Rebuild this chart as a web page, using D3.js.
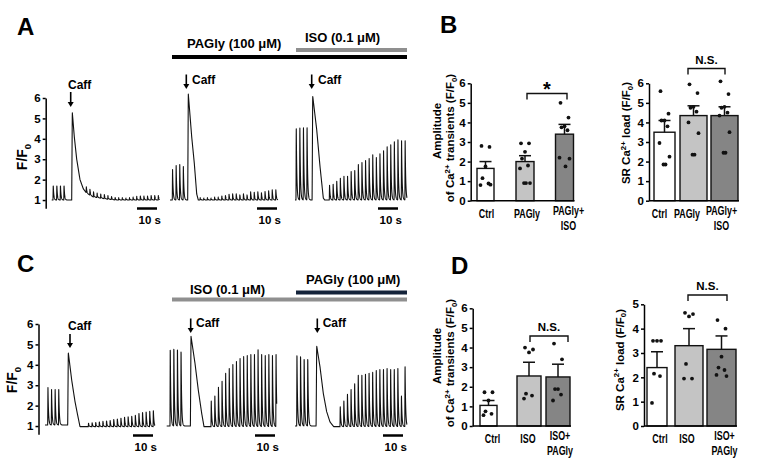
<!DOCTYPE html>
<html>
<head>
<meta charset="utf-8">
<script src="https://cdn.jsdelivr.net/npm/d3@7/dist/d3.min.js"></script>
<style>
  html, body { margin: 0; background: #fff; }
  svg { display: block; font-family: "Liberation Sans", Arial, sans-serif; font-weight: bold; }
</style>
</head>
<body>
<svg id="fig" width="763" height="463"></svg>
<script>
// ---------- data ----------
/** Field-stimulation interval, s. */
const pacingPeriod = 1.8;
const traceTicks = [1, 2, 3, 4, 5, 6];

// Panel A traces: Ctrl | PAGly | PAGly+ISO  (peak F/F0 of each beat)
const a1Pre = [1.75, 1.75, 1.75, 1.75];
const a1Caff = [[0, 5.3], [1, 4.1], [2.2, 3.0], [3.85, 2.0], [5.5, 1.55], [7.2, 1.33], [10.5, 1.15], [17, 1.05], [22, 1.0]];
const a1Post = [1.3, 1.28, 1.25, 1.22, 1.2, 1.2, 1.18, 1.15, 1.12, 1.12, 1.12, 1.1, 1.12, 1.15, 1.18, 1.2, 1.2, 1.2, 1.22, 1.22, 1.22];
const a2Pre = [2.55, 2.75, 2.8, 2.7];
const a2Caff = [[0, 6.2], [1.7, 4.1], [3, 2.8], [4.2, 1.3], [5, 1.0]];
const a2Post = [1.12, 1.1, 1.12, 1.1, 1.15, 1.15, 1.2, 1.22, 1.28, 1.3, 1.3, 1.25, 1.3, 1.25, 1.4, 1.38, 1.4, 1.35, 1.42, 1.45, 1.5, 1.5];
const a3Pre = [4.75, 4.78, 4.8, 4.8];
const a3Caff = [[0, 6.1], [2, 4.45], [3.65, 2.65], [5.3, 1.1], [6, 1.0]];
const a3Post = [1.75, 1.8, 1.95, 2.1, 2.2, 2.2, 2.45, 2.5, 2.8, 2.9, 3.0, 3.1, 3.3, 3.15, 3.35, 3.5, 3.7, 3.8, 3.95, 4.05, 4.0, 4.0];
// beat / caffeine timing within each trace, s: [first pre beat, caffeine peak, first post beat]
const aTiming = [[0.65, 10.3, 17.2], [1.15, 9.15, 15], [0.5, 8.85, 17.15]];

// Panel C traces: Ctrl | ISO | ISO+PAGly
const c1Pre = [2.9, 2.8, 2.8, 2.8];
const c1Caff = [[0, 4.6], [1.7, 3.25], [3.35, 2.2], [4.5, 1.62], [5.85, 0.97]];
const c1Post = [1.18, 1.2, 1.22, 1.25, 1.28, 1.3, 1.32, 1.38, 1.4, 1.45, 1.5, 1.52, 1.55, 1.6, 1.7, 1.75, 1.78, 1.82, 1.85];
const c2Pre = [5.05, 5.1, 5.05, 4.95];
const c2Caff = [[0, 5.4], [2, 4.07], [3.65, 2.76], [5.35, 1.62], [6.5, 0.97]];
const c2Post = [2.3, 2.55, 3.0, 3.3, 3.7, 3.95, 4.15, 4.3, 4.45, 4.55, 4.6, 4.65, 4.65, 4.9, 4.65, 4.6, 4.65, 4.6, 4.65];
const c3Pre = [4.75, 4.7, 4.55, 4.55];
const c3Caff = [[0, 4.92], [1.65, 3.9], [3.3, 2.6], [5, 1.7], [6.65, 1.2], [8.5, 0.97]];
const c3Post = [2.05, 2.35, 2.7, 2.95, 3.25, 3.7, 3.7, 3.75, 3.8, 3.85, 3.95, 4.0, 4.0, 4.05, 4.0, 4.0, 4.05, 2.6, 4.15];
const cTiming = [[1.35, 11.65, 21.65], [1.65, 12.15, 22.15], [0.85, 10.85, 22.5]];
const cBase = [1.05, 1.0, 1.0];

// Panel B / D bar charts
const barTicks6 = [0, 1, 2, 3, 4, 5, 6];
const barTicks5 = [0, 1, 2, 3, 4, 5];
const bCats = ["Ctrl", "PAGly", "PAGly+ISO"];
const bAmpMean = [1.65, 2.0, 3.4];
const bAmpSem = [0.35, 0.3, 0.5];
const bAmpDots = [[2.8, 2.75, 1.75, 1.15, 0.88, 0.8, 0.82], [2.93, 2.93, 2.5, 2.15, 1.8, 1.65, 0.9, 0.9, 0.9], [5.0, 4.25, 3.8, 3.75, 3.6, 2.2, 2.15, 1.75]];
const bLoadMean = [3.5, 4.35, 4.35];
const bLoadSem = [0.6, 0.5, 0.45];
const bLoadDots = [[5.6, 4.45, 4.1, 4.1, 3.8, 2.95, 2.25, 1.85, 1.85], [5.95, 5.5, 4.8, 4.75, 4.55, 4.0, 3.45, 2.35, 2.35], [6.1, 5.45, 4.8, 4.75, 4.5, 4.35, 3.5, 2.45, 2.45]];
const dCats = ["Ctrl", "ISO", "ISO+PAGly"];
const dAmpMean = [1.05, 2.55, 2.5];
const dAmpSem = [0.25, 0.7, 0.65];
const dAmpDots = [[1.72, 1.72, 1.3, 0.75, 0.62, 0.55], [4.0, 3.9, 3.75, 1.65, 1.55, 1.4], [4.2, 3.4, 1.88, 1.88, 1.6, 1.3]];
const dLoadMean = [2.4, 3.3, 3.15];
const dLoadSem = [0.65, 0.7, 0.55];
const dLoadDots = [[3.5, 3.5, 3.5, 2.15, 2.05, 0.95], [4.65, 4.6, 4.5, 2.55, 1.95, 1.95], [4.35, 4.0, 2.85, 2.4, 2.3, 2.1, 2.05]];

// ---------- drawing ----------
const svg = d3.select("#fig");
const TICK_FONT = 11.5;
const CAT_FONT = 12;
/** px per second of the trace time axis (10 s = 20 px). */
const PX_PER_S = 2;

/** Append text made of [string, "sup"|"sub"|null] parts. */
function richText(sel, parts, size) {
  let shift = 0;
  parts.forEach(([s, kind]) => {
    const target = kind === "sup" ? -size * 0.38 : kind === "sub" ? size * 0.25 : 0;
    sel.append("tspan")
      .attr("dy", target - shift)
      .attr("font-size", kind ? size * 0.68 : size)
      .text(s);
    shift = target;
  });
  return sel;
}

function panelLetter(txt, x, y) {
  svg.append("text").attr("x", x).attr("y", y).attr("font-size", 24).text(txt);
}

function treatmentBar(x1, x2, y, color, label, lx, ly) {
  svg.append("line").attr("x1", x1).attr("x2", x2).attr("y1", y).attr("y2", y)
    .attr("stroke", color).attr("stroke-width", 4);
  svg.append("text").attr("x", lx).attr("y", ly).attr("font-size", 13).text(label);
}

function styleAxis(axis) {
  axis.select(".domain").attr("stroke-width", 1.5);
  axis.selectAll(".tick line").attr("stroke-width", 1.5);
  axis.selectAll("text").attr("font-size", TICK_FONT).attr("font-family", null).attr("fill", "#000");
}

function traceSeries(tr) {
  const [preT0, caffT, postT0] = tr.timing;
  const caffCurve = d3.scaleLinear()
    .domain(tr.caff.map((d) => d[0]))
    .range(tr.caff.map((d) => d[1]))
    .clamp(true);
  const beats = [];
  tr.pre.forEach((a, i) => beats.push({ t: preT0 + i * pacingPeriod, a }));
  tr.post.forEach((a, i) => beats.push({ t: postT0 + i * pacingPeriod, a }));
  const pts = [];
  for (let t = 0; t <= tr.dur; t += 0.04) {
    const dt = t - caffT;
    let v = tr.base;
    if (dt >= -0.3 && dt < 0) v = tr.base + (tr.caff[0][1] - tr.base) * (dt + 0.3) / 0.3;
    else if (dt >= 0) v = caffCurve(dt);
    beats.forEach((b) => {
      const d = t - b.t;
      if (d >= 0 && d < 0.12) v += (b.a - 1) * d / 0.12;
      else if (d >= 0.12 && d < 3) v += (b.a - 1) * Math.exp(-(d - 0.12) / 0.28);
    });
    pts.push([t, v]);
  }
  return pts;
}

function traceRow(cfg) {
  const y = d3.scaleLinear().domain([0.6, 6]).range(cfg.yRange);
  const g = svg.append("g");
  const axis = g.append("g")
    .attr("transform", `translate(${cfg.axisX},0)`)
    .call(d3.axisLeft(y).tickValues(traceTicks).tickFormat(d3.format("d")).tickSize(3).tickSizeOuter(0).tickPadding(2));
  styleAxis(axis);

  richText(g.append("text")
    .attr("transform", `translate(${cfg.labelX},${cfg.labelY}) rotate(-90)`)
    .attr("text-anchor", "middle"), [["F/F", null], ["0", "sub"]], 14);

  cfg.traces.forEach((tr, i) => {
    const x = d3.scaleLinear().domain([0, tr.dur]).range([tr.x0, tr.x0 + tr.dur * PX_PER_S]);
    const line = d3.line().x((d) => x(d[0])).y((d) => y(d[1]));
    g.append("path").datum(traceSeries(tr)).attr("d", line)
      .attr("fill", "none").attr("stroke", "#111").attr("stroke-width", 1.1)
      .attr("stroke-linejoin", "round");

    // 10 s scale bar
    const sb = cfg.scaleBars[i];
    g.append("line").attr("x1", sb - 10 * PX_PER_S).attr("x2", sb)
      .attr("y1", cfg.scaleY).attr("y2", cfg.scaleY)
      .attr("stroke", "#000").attr("stroke-width", 2.5);
    g.append("text").attr("x", sb - 10 * PX_PER_S + 1.5).attr("y", cfg.scaleY + 15)
      .attr("font-size", 11.5).text("10 s");

    // caffeine arrow
    const ax = x(tr.timing[1]) + cfg.arrowDx[i];
    const [ay1, ay2] = cfg.arrowY[i];
    g.append("line").attr("x1", ax).attr("x2", ax).attr("y1", ay1).attr("y2", ay2 - 4)
      .attr("stroke", "#000").attr("stroke-width", 1.6);
    g.append("path").attr("d", `M${ax - 3},${ay2 - 5}L${ax + 3},${ay2 - 5}L${ax},${ay2}Z`).attr("fill", "#000");
    g.append("text").attr("x", cfg.caffX[i]).attr("y", cfg.caffY[i]).attr("font-size", 12).text("Caff");
  });
}

function barChart(cfg) {
  const y = d3.scaleLinear().domain(cfg.domain).range(cfg.yRange);
  const x = d3.scaleOrdinal().domain(cfg.cats).range(cfg.centers);
  const w = d3.scaleOrdinal().domain(cfg.cats).range(cfg.widths);
  const fill = d3.scaleOrdinal().domain(cfg.cats).range(["#ffffff", "#c4c4c4", "#858585"]);
  const g = svg.append("g");
  const rows = cfg.cats.map((c, i) => ({ c, mean: cfg.mean[i], sem: cfg.sem[i], dots: cfg.dots[i] }));

  g.selectAll("rect").data(rows).join("rect")
    .attr("x", (d) => x(d.c) - w(d.c) / 2)
    .attr("width", (d) => w(d.c))
    .attr("y", (d) => y(d.mean))
    .attr("height", (d) => y(0) - y(d.mean))
    .attr("fill", (d) => fill(d.c))
    .attr("stroke", "#111").attr("stroke-width", 1.4);

  // SEM error bars (upper)
  rows.forEach((d) => {
    g.append("line").attr("x1", x(d.c)).attr("x2", x(d.c))
      .attr("y1", y(d.mean)).attr("y2", y(d.mean + d.sem))
      .attr("stroke", "#111").attr("stroke-width", 1.5);
    g.append("line").attr("x1", x(d.c) - 6).attr("x2", x(d.c) + 6)
      .attr("y1", y(d.mean + d.sem)).attr("y2", y(d.mean + d.sem))
      .attr("stroke", "#111").attr("stroke-width", 1.5);
  });

  // individual cells
  const jitter = [-4, 4, 0, -3, 3, -5, 5, 1, -1];
  rows.forEach((d) => {
    g.selectAll(null).data(d.dots).join("circle")
      .attr("cx", (v, i) => x(d.c) + jitter[i % jitter.length])
      .attr("cy", (v) => y(v))
      .attr("r", 1.9).attr("fill", "#111");
  });

  // axes
  const axis = g.append("g").attr("transform", `translate(${cfg.axisX},0)`)
    .call(d3.axisLeft(y).tickValues(cfg.ticks).tickFormat(d3.format("d")).tickSize(3).tickSizeOuter(0).tickPadding(2));
  styleAxis(axis);
  const last = cfg.cats[cfg.cats.length - 1];
  g.append("line").attr("x1", cfg.axisX).attr("x2", x(last) + w(last) / 2 + 1)
    .attr("y1", y(0)).attr("y2", y(0)).attr("stroke", "#000").attr("stroke-width", 1.5);

  // category labels (the figure sets them in a condensed face)
  cfg.cats.forEach((c, i) => {
    const parts = c.includes("+") ? [c.slice(0, c.indexOf("+") + 1), c.slice(c.indexOf("+") + 1)] : [c];
    const lx = x(c) + cfg.labelDx[i];
    parts.forEach((p, j) => {
      const t = g.append("text").attr("x", lx).attr("text-anchor", "middle")
        .attr("y", parts.length > 1 ? cfg.catY - 3 + j * 14.5 : cfg.catY)
        .attr("font-size", CAT_FONT).text(p);
      t.attr("textLength", t.node().getComputedTextLength() * 0.74).attr("lengthAdjust", "spacingAndGlyphs");
    });
  });

  // y label
  cfg.yLabel.forEach((parts, j) => {
    richText(g.append("text")
      .attr("transform", `translate(${cfg.yLabelX[j]},${cfg.yLabelY[j]}) rotate(-90)`)
      .attr("text-anchor", "middle"), parts, 11.5);
  });

  // significance bracket
  const [bx1, bx2, by, txt] = cfg.bracket;
  g.append("path").attr("d", `M${bx1},${by + 6}V${by}H${bx2}V${by + 6}`)
    .attr("fill", "none").attr("stroke", "#111").attr("stroke-width", 1.4);
  g.append("text").attr("x", (bx1 + bx2) / 2).attr("text-anchor", "middle")
    .attr("y", txt === "*" ? by + 2 : by - 5)
    .attr("font-size", txt === "*" ? 20 : 11.5).text(txt);
}

// ---- panel letters & treatment bars ----
panelLetter("A", 17, 35);
panelLetter("B", 440, 33);
panelLetter("C", 17, 272);
panelLetter("D", 451, 274);

treatmentBar(172, 407, 57, "#000", "PAGly (100 \u03bcM)", 187, 48);
treatmentBar(296, 407, 50, "#8f8f8f", "ISO (0.1 \u03bcM)", 305, 42);
treatmentBar(172, 407, 299.5, "#8f8f8f", "ISO (0.1 \u03bcM)", 190, 293.5);
treatmentBar(296, 407, 292.5, "#14233a", "PAGly (100 \u03bcM)", 306, 284);

// ---- panel A ----
traceRow({
  yRange: [208.2, 98], axisX: 45.7, labelX: 27, labelY: 157,
  traces: [
    { x0: 51.7, dur: 54, base: 1.0, timing: aTiming[0], pre: a1Pre, caff: a1Caff, post: a1Post },
    { x0: 170, dur: 54, base: 1.0, timing: aTiming[1], pre: a2Pre, caff: a2Caff, post: a2Post },
    { x0: 295, dur: 56, base: 1.0, timing: aTiming[2], pre: a3Pre, caff: a3Caff, post: a3Post },
  ],
  scaleBars: [157, 277, 398], scaleY: 208.5,
  arrowDx: [-1.6, -2, -1], arrowY: [[92, 107], [74.5, 89], [74.5, 89]],
  caffX: [68, 192, 318], caffY: [89, 83.5, 83.5],
});

// ---- panel C ----
traceRow({
  yRange: [434.2, 324], axisX: 38.5, labelX: 17, labelY: 380,
  traces: [
    { x0: 45, dur: 55, base: cBase[0], timing: cTiming[0], pre: c1Pre, caff: c1Caff, post: c1Post },
    { x0: 166.7, dur: 55, base: cBase[1], timing: cTiming[1], pre: c2Pre, caff: c2Caff, post: c2Post },
    { x0: 295, dur: 56, base: cBase[2], timing: cTiming[2], pre: c3Pre, caff: c3Caff, post: c3Post },
  ],
  scaleBars: [153, 275, 403], scaleY: 435.5,
  arrowDx: [1.7, -0.3, 0.6], arrowY: [[334, 348], [318.5, 333], [318.5, 333]],
  caffX: [68, 196, 322.7], caffY: [330, 327.3, 327],
});

// ---- panel B ----
const ampLabel = [[["Amplitude", null]], [["of Ca", null], ["2+", "sup"], [" transients (F/F", null], ["0", "sub"], [")", null]]];
const loadLabel = [[["SR Ca", null], ["2+", "sup"], [" load (F/F", null], ["0", "sub"], [")", null]]];

barChart({
  cats: bCats, mean: bAmpMean, sem: bAmpSem, dots: bAmpDots,
  domain: [0, 6], ticks: barTicks6, yRange: [200.7, 83.3], axisX: 470.7,
  centers: [485.5, 525, 564.5], widths: [17, 18, 18], labelDx: [1, 2, 4], catY: 218,
  yLabel: ampLabel, yLabelX: [441, 454], yLabelY: [131, 138],
  bracket: [527, 567, 93.5, "*"],
});
barChart({
  cats: bCats, mean: bLoadMean, sem: bLoadSem, dots: bLoadDots,
  domain: [0, 6], ticks: barTicks6, yRange: [200.7, 83.3], axisX: 649,
  centers: [664.5, 693.5, 724.5], widths: [21, 27, 27], labelDx: [-5, -6.5, -3], catY: 218,
  yLabel: loadLabel, yLabelX: [630], yLabelY: [133],
  bracket: [688, 725, 68.5, "N.S."],
});

// ---- panel D ----
barChart({
  cats: dCats, mean: dAmpMean, sem: dAmpSem, dots: dAmpDots,
  domain: [0, 6], ticks: barTicks6, yRange: [426, 308.3], axisX: 472.7,
  centers: [488.5, 529, 558], widths: [17, 24, 24], labelDx: [4, -1, 2], catY: 443,
  yLabel: ampLabel, yLabelX: [441, 454], yLabelY: [356, 363],
  bracket: [530, 568, 336, "N.S."],
});
barChart({
  cats: dCats, mean: dLoadMean, sem: dLoadSem, dots: dLoadDots,
  domain: [0, 5], ticks: barTicks5, yRange: [426, 304.3], axisX: 644,
  centers: [657, 689, 721.5], widths: [20, 28, 29], labelDx: [3, -2, 3], catY: 443,
  yLabel: loadLabel, yLabelX: [623.5], yLabelY: [360],
  bracket: [688, 727, 295, "N.S."],
});
</script>
</body>
</html>
